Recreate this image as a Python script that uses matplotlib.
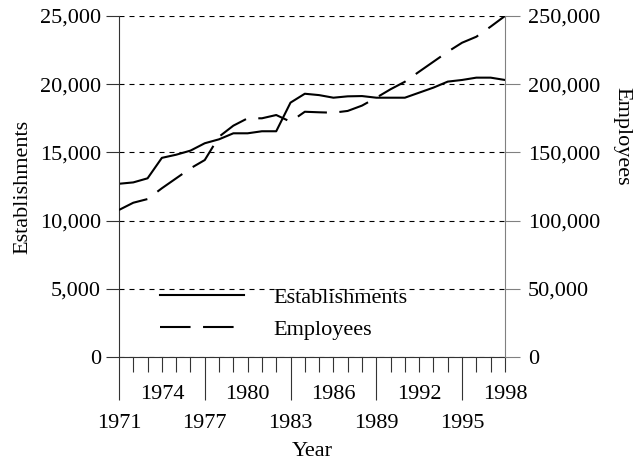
import matplotlib
matplotlib.use("Agg")
import matplotlib.pyplot as plt
from matplotlib.ticker import FixedLocator, FuncFormatter

years = list(range(1971, 1999))
establishments = [12700, 12800, 13100, 14600, 14830, 15130, 15670, 15960, 16400, 16400,
                  16550, 16550, 18650, 19300, 19200, 19010, 19110, 19130, 19010, 19010,
                  19010, 19380, 19750, 20190, 20310, 20480, 20480, 20310]
employees = [107800, 113100, 115800, 123700, 131000, 138300, 144400, 161500, 169600, 175000,
             175000, 177400, 172500, 179800, 179400, 179100, 180400, 184300, 190100, 196300,
             201800, 209200, 216500, 223800, 230400, 234800, 242200, 250000]
left_ticks = [0, 5000, 10000, 15000, 20000, 25000]
right_ticks = [0, 50000, 100000, 150000, 200000, 250000]
lower_year_labels = [1971, 1977, 1983, 1989, 1995]
upper_year_labels = [1974, 1980, 1986, 1992, 1998]

plt.rcParams['font.family'] = ['Liberation Serif', 'DejaVu Serif']
plt.rcParams['font.size'] = 16
plt.rcParams['lines.scale_dashes'] = False

fig = plt.figure(figsize=(6.39, 4.61), dpi=100)
ax = fig.add_axes([0.1862, 0.2256, 0.604, 0.7397])
ax2 = ax.twinx()

ax.set_xlim(1971, 1998)
ax.set_ylim(0, 25000)
ax2.set_ylim(0, 250000)

ax.yaxis.set_major_locator(FixedLocator(left_ticks))
ax2.yaxis.set_major_locator(FixedLocator(right_ticks))
ax.yaxis.set_major_formatter(FuncFormatter(lambda v, p: f"{int(round(v)):,}"))
ax2.yaxis.set_major_formatter(FuncFormatter(lambda v, p: f"{int(round(v)):,}"))

ax.xaxis.set_major_locator(FixedLocator(lower_year_labels))
ax.xaxis.set_minor_locator(FixedLocator(years))
ax.xaxis.set_major_formatter(FuncFormatter(lambda v, p: str(int(round(v)))))
ax.xaxis.set_minor_formatter(FuncFormatter(
    lambda v, p: str(int(round(v))) if int(round(v)) in upper_year_labels else ""))

ax.yaxis.grid(True, color='black', linestyle=(0, (3.6, 3.6)), linewidth=0.8)
ax.set_axisbelow(True)

l1, = ax.plot(years, establishments, color='black', linewidth=1.5, label='Establishments')
l2, = ax2.plot(years, employees, color='black', linewidth=1.5,
               linestyle=(0, (22, 9)), label='Employees')

for s in ['top', 'right']:
    ax.spines[s].set_visible(False)
for s in ['top', 'left', 'bottom']:
    ax2.spines[s].set_visible(False)
ax.spines['left'].set_color('#333333')
ax.spines['bottom'].set_color('#333333')
ax2.spines['right'].set_color('#808080')

ax.tick_params(axis='y', direction='out', length=9.5, width=0.8, pad=3.5, color='#333333')
ax2.tick_params(axis='y', direction='out', length=11, width=0.8, pad=5.5, color='#808080')
ax.tick_params(axis='x', which='major', direction='out', length=31, width=0.8, pad=10.3,
               color='#333333')
ax.tick_params(axis='x', which='minor', direction='out', length=11, width=0.8, pad=9.5,
               color='#333333', labelsize=16)

ax.set_xlabel('Year', labelpad=6.3)
ax.set_ylabel('Establishments', labelpad=5)
ax2.set_ylabel('Employees', rotation=-90)
ax2.yaxis.label.set_rotation_mode('default')
ax2.yaxis.label.set_va('center')
ax2.yaxis.label.set_ha('center')
ax2.yaxis.set_label_coords(1.303, 0.648)

leg = ax2.legend([l1, l2], ['Establishments', 'Employees'], loc='upper left',
                 bbox_to_anchor=(0.106, 0.204), frameon=False, borderaxespad=0,
                 borderpad=0, handlelength=3.8, handletextpad=1.3, labelspacing=0.52)

fig.savefig('out.png', dpi=100)
